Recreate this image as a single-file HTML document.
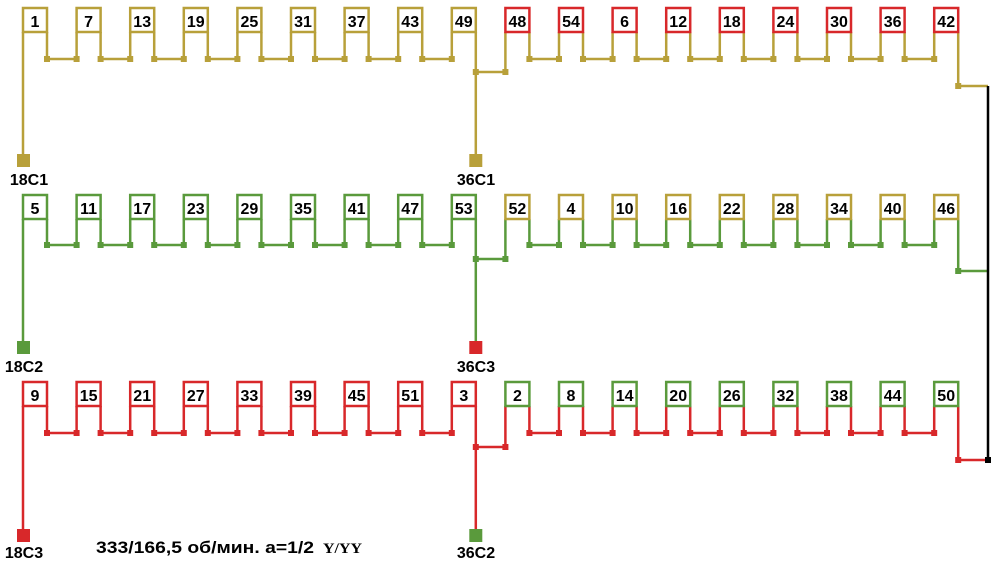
<!DOCTYPE html>
<html><head><meta charset="utf-8"><style>
body{margin:0;background:#fff}
svg{display:block}
text{font-family:"Liberation Sans",sans-serif;font-weight:bold}
</style></head><body>
<svg id="s" width="1000" height="567" viewBox="0 0 1000 567">
<g id="lines"></g>
<g font-size="16" text-anchor="middle" fill="#000">
<text x="35" y="27">1</text><text x="88.6" y="27">7</text><text x="142.2" y="27">13</text><text x="195.8" y="27">19</text><text x="249.4" y="27">25</text><text x="303" y="27">31</text><text x="356.6" y="27">37</text><text x="410.2" y="27">43</text><text x="463.8" y="27">49</text><text x="517.4" y="27">48</text><text x="571" y="27">54</text><text x="624.6" y="27">6</text><text x="678.2" y="27">12</text><text x="731.8" y="27">18</text><text x="785.4" y="27">24</text><text x="839" y="27">30</text><text x="892.6" y="27">36</text><text x="946.2" y="27">42</text>
<text x="35" y="214">5</text><text x="88.6" y="214">11</text><text x="142.2" y="214">17</text><text x="195.8" y="214">23</text><text x="249.4" y="214">29</text><text x="303" y="214">35</text><text x="356.6" y="214">41</text><text x="410.2" y="214">47</text><text x="463.8" y="214">53</text><text x="517.4" y="214">52</text><text x="571" y="214">4</text><text x="624.6" y="214">10</text><text x="678.2" y="214">16</text><text x="731.8" y="214">22</text><text x="785.4" y="214">28</text><text x="839" y="214">34</text><text x="892.6" y="214">40</text><text x="946.2" y="214">46</text>
<text x="35" y="401">9</text><text x="88.6" y="401">15</text><text x="142.2" y="401">21</text><text x="195.8" y="401">27</text><text x="249.4" y="401">33</text><text x="303" y="401">39</text><text x="356.6" y="401">45</text><text x="410.2" y="401">51</text><text x="463.8" y="401">3</text><text x="517.4" y="401">2</text><text x="571" y="401">8</text><text x="624.6" y="401">14</text><text x="678.2" y="401">20</text><text x="731.8" y="401">26</text><text x="785.4" y="401">32</text><text x="839" y="401">38</text><text x="892.6" y="401">44</text><text x="946.2" y="401">50</text>
</g>
<g font-size="16" text-anchor="middle">
<text x="29" y="185">18C1</text><text x="476" y="185">36C1</text>
<text x="24" y="372">18C2</text><text x="476" y="372">36C3</text>
<text x="24" y="558">18C3</text><text x="476" y="558">36C2</text>
</g>
<text x="96" y="553" font-size="17" textLength="218" lengthAdjust="spacingAndGlyphs">333/166,5 об/мин. а=1/2</text>
<text x="323" y="553" style="font-family:'Liberation Serif',serif;font-size:15px" textLength="39" lengthAdjust="spacingAndGlyphs">Y/YY</text>
</svg>
<script>
var G='#b8a03a',GR='#5a9a3c',R='#d8282a';
var rows=[
 {T:8,L:59,M:72,E:86,P:160,line:G,b1:G,b2:R,t1:G,t2:G},
 {T:195,L:245,M:259,E:271,P:347,line:GR,b1:GR,b2:G,t1:GR,t2:R},
 {T:382,L:433,M:447,E:460,P:535,line:R,b1:R,b2:GR,t1:R,t2:GR}];
var h='',W=24,BH=24;
function ln(x1,y1,x2,y2,c){h+='<line x1="'+x1+'" y1="'+y1+'" x2="'+x2+'" y2="'+y2+'" stroke="'+c+'" stroke-width="2.5"/>';}
function dot(x,y,c){h+='<rect x="'+(x-3)+'" y="'+(y-3)+'" width="6" height="6" fill="'+c+'"/>';}
rows.forEach(function(r){
 var c=r.line,xs=[];for(var i=0;i<18;i++)xs.push(23+53.6*i);
 var B=r.T+BH;
 ln(23,B,23,r.P,c);
 for(var i=0;i<18;i++){
  var x=xs[i];
  if(i<17&&i!=8){ln(x+W,B,x+W,r.L,c);ln(x+W,r.L,xs[i+1],r.L,c);ln(xs[i+1],r.L,xs[i+1],B,c);dot(x+W,r.L,c);dot(xs[i+1],r.L,c);}
 }
 var x8=xs[8]+W;ln(x8,B,x8,r.P,c);ln(x8,r.M,xs[9],r.M,c);ln(xs[9],r.M,xs[9],B,c);dot(x8,r.M,c);dot(xs[9],r.M,c);
 var x17=xs[17]+W;ln(x17,B,x17,r.E,c);ln(x17,r.E,988,r.E,c);dot(x17,r.E,c);
 for(var i=0;i<18;i++){h+='<rect x="'+xs[i]+'" y="'+r.T+'" width="'+W+'" height="'+BH+'" fill="#fff" stroke="'+(i<9?r.b1:r.b2)+'" stroke-width="2.5"/>';}
 h+='<rect x="17" y="'+(r.P-6)+'" width="13" height="13" fill="'+r.t1+'"/>';
 h+='<rect x="'+(x8-6.5)+'" y="'+(r.P-6)+'" width="13" height="13" fill="'+r.t2+'"/>';
});
h+='<line x1="988" y1="86" x2="988" y2="460" stroke="#000" stroke-width="2.5"/>';
dot(988,460,'#000');
document.getElementById('lines').innerHTML=h;
</script>
</body></html>
